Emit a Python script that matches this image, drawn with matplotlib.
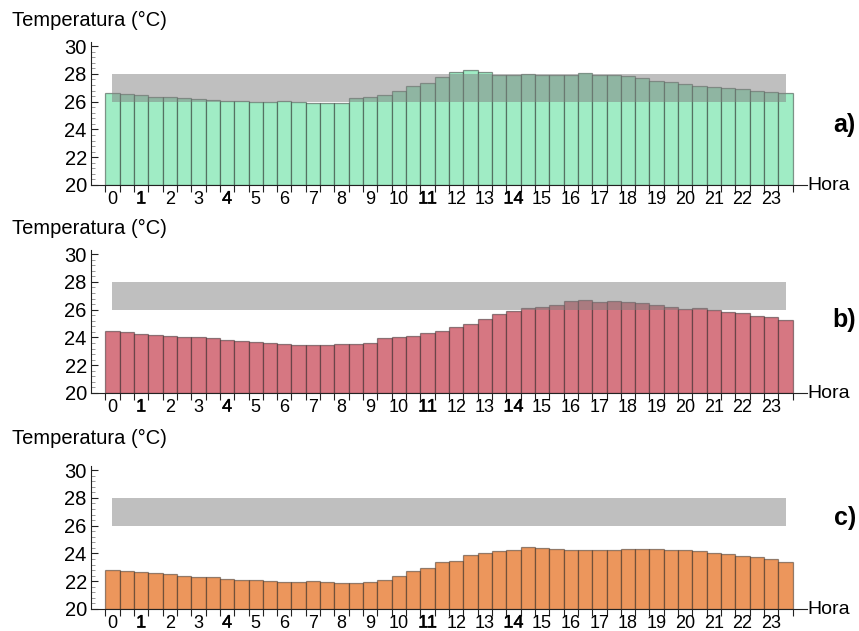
import numpy as np
import matplotlib
matplotlib.use("Agg")
import matplotlib.pyplot as plt
import matplotlib.patheffects as pe
from matplotlib.ticker import MultipleLocator

plt.rcParams["font.family"] = ["Liberation Sans", "DejaVu Sans"]

# half-hour temperatures (°C), 48 values per panel
temp_a = [26.60, 26.53, 26.46, 26.34, 26.34, 26.24, 26.19, 26.12, 26.05, 26.02,
          25.95, 25.98, 26.05, 25.98, 25.90, 25.88, 25.88, 26.27, 26.34, 26.48,
          26.80, 27.13, 27.35, 27.81, 28.14, 28.29, 28.14, 27.90, 27.90, 28.00,
          27.90, 27.90, 27.90, 28.07, 27.90, 27.90, 27.86, 27.71, 27.52, 27.42,
          27.28, 27.16, 27.06, 26.99, 26.89, 26.80, 26.72, 26.63]
temp_b = [24.49, 24.37, 24.27, 24.20, 24.12, 24.02, 24.02, 23.95, 23.83, 23.78,
          23.68, 23.63, 23.56, 23.44, 23.44, 23.44, 23.51, 23.56, 23.63, 23.93,
          24.05, 24.10, 24.32, 24.49, 24.78, 25.00, 25.32, 25.66, 25.90, 26.10,
          26.17, 26.34, 26.61, 26.68, 26.54, 26.61, 26.54, 26.46, 26.32, 26.22,
          26.07, 26.12, 25.98, 25.83, 25.73, 25.56, 25.44, 25.27]
temp_c = [22.80, 22.76, 22.66, 22.59, 22.54, 22.37, 22.29, 22.29, 22.17, 22.12,
          22.12, 22.02, 21.95, 21.95, 22.02, 21.95, 21.90, 21.88, 21.95, 22.12,
          22.41, 22.71, 22.95, 23.39, 23.46, 23.88, 24.00, 24.15, 24.22, 24.46,
          24.41, 24.34, 24.27, 24.27, 24.22, 24.22, 24.34, 24.29, 24.29, 24.24,
          24.24, 24.17, 24.05, 23.95, 23.83, 23.71, 23.59, 23.41]

comfort_low = 26
comfort_high = 28
hours = list(range(24))
bold_hours = [1, 4, 11, 14]

panels = [
    (temp_a, "#a0ecc5", "a)"),
    (temp_b, "#d67782", "b)"),
    (temp_c, "#ec965c", "c)"),
]

W, H = 859, 631
fig = plt.figure(figsize=(W / 100, H / 100), dpi=100)

# pixel geometry: (y of 20°C line, y of axis top, y of title, y of panel tag)
rows = [(185, 42, 20, 125), (393, 250, 228, 320), (609, 466, 438, 518)]

for (temps, color, tag), (y20, ytop, ytitle, ytag) in zip(panels, rows):
    left = 91 / W
    width = 716 / W
    ax = fig.add_axes([left, (H - y20) / H, width, (y20 - ytop) / H])

    x = np.arange(len(temps)) * 0.5
    ax.bar(x, np.array(temps) - 20, width=0.5, bottom=20, align="edge",
           color=color, edgecolor=(0, 0, 0, 0.4), linewidth=0.9, zorder=2)

    ax.fill_between([0.25, 23.75], comfort_low, comfort_high,
                    color="#808080", alpha=0.5, linewidth=0, zorder=3)

    ax.set_xlim(-0.5, 24.5)
    ax.set_ylim(20, 30.3)

    for s in ["top", "right"]:
        ax.spines[s].set_visible(False)
    ax.spines["left"].set_color("#222222")
    ax.spines["bottom"].set_color("#222222")

    ax.set_xticks(np.arange(0, 24.01, 0.5))
    ax.set_xticklabels([])
    ax.tick_params(axis="x", which="major", direction="out", length=5,
                   color="#222222")
    ax.set_xticks([h + 0.25 for h in hours], minor=True)
    ax.set_xticklabels([str(h) for h in hours], minor=True, fontsize=13)
    ax.tick_params(axis="x", which="minor", length=0, pad=4)
    for lab, h in zip(ax.get_xticklabels(minor=True), hours):
        if h in bold_hours:
            lab.set_path_effects([pe.withStroke(linewidth=0.35, foreground="black")])

    ax.set_yticks(range(20, 31, 2))
    ax.yaxis.set_minor_locator(MultipleLocator(0.4))
    ax.tick_params(axis="y", which="major", direction="in", length=5,
                   labelsize=14.5, pad=3, color="#222222")
    ax.tick_params(axis="y", which="minor", direction="in", length=3,
                   color="#888888")

    ax.text(1.0, 0, "Hora", transform=ax.transAxes, ha="left", va="center",
            fontsize=14)

    fig.text(12 / W, 1 - ytitle / H, "Temperatura (°C)", ha="left",
             va="center", fontsize=14.5)
    fig.text(856 / W, 1 - ytag / H, tag, ha="right", va="center",
             fontsize=18, fontweight="bold")

fig.savefig("out.png", dpi=100)
